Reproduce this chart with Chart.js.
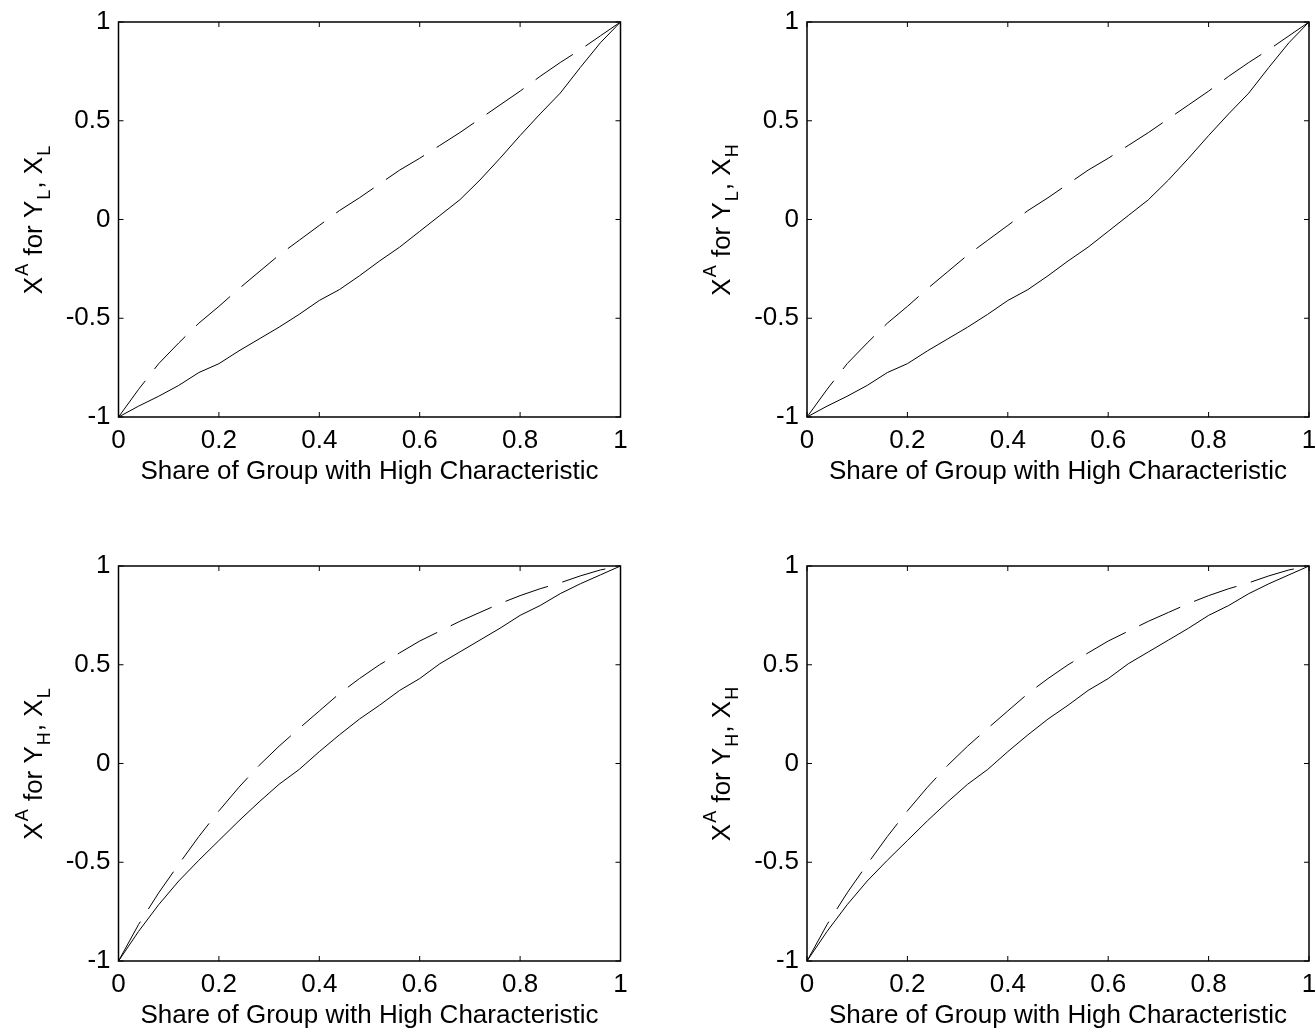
<!DOCTYPE html>
<html>
<head>
<meta charset="utf-8">
<script src="https://cdn.jsdelivr.net/npm/chart.js@4.4.0/dist/chart.umd.min.js"></script>
<style>
  body { margin: 0; background: #fff; }
  #wrap { position: relative; width: 1316px; height: 1033px; overflow: hidden; background: #fff; }
  canvas { position: absolute; }
</style>
</head>
<body>
<div id="wrap">
  <canvas id="tl" width="658" height="516" style="left:0;top:0"></canvas>
  <canvas id="tr" width="658" height="516" style="left:658px;top:0"></canvas>
  <canvas id="bl" width="658" height="517" style="left:0;top:516px"></canvas>
  <canvas id="br" width="658" height="517" style="left:658px;top:516px"></canvas>
</div>
<script>
// share of group with high characteristic (x)
const shareHigh = [0, 0.04, 0.08, 0.12, 0.16, 0.20, 0.24, 0.28, 0.32, 0.36, 0.40, 0.44, 0.48,
                   0.52, 0.56, 0.60, 0.64, 0.68, 0.72, 0.76, 0.80, 0.84, 0.88, 0.92, 0.96, 1];

// top row, X^A for Y_L
const topSolid  = [-1, -0.945, -0.895, -0.84, -0.775, -0.73, -0.665, -0.605, -0.545, -0.48, -0.41, -0.355, -0.285,
                   -0.21, -0.14, -0.06, 0.02, 0.10, 0.20, 0.31, 0.425, 0.535, 0.64, 0.77, 0.895, 1];
const topDashed = [-1, -0.86, -0.73, -0.625, -0.525, -0.44, -0.35, -0.265, -0.18, -0.105, -0.03, 0.045, 0.11,
                   0.18, 0.25, 0.31, 0.375, 0.44, 0.51, 0.58, 0.65, 0.725, 0.795, 0.86, 0.93, 1];

// bottom row, X^A for Y_H
const bottomSolid  = [-1, -0.85, -0.715, -0.595, -0.49, -0.39, -0.29, -0.195, -0.105, -0.03, 0.06, 0.145, 0.225,
                      0.295, 0.37, 0.43, 0.505, 0.565, 0.625, 0.685, 0.75, 0.80, 0.86, 0.91, 0.955, 1];
const bottomDashed = [-1, -0.815, -0.655, -0.51, -0.37, -0.24, -0.12, -0.01, 0.088, 0.178, 0.266, 0.354, 0.43,
                      0.5, 0.56, 0.62, 0.67, 0.72, 0.765, 0.81, 0.85, 0.885, 0.915, 0.95, 0.98, 1];

const xTicks = [0, 0.2, 0.4, 0.6, 0.8, 1];
const xTickLabels = ['0', '0.2', '0.4', '0.6', '0.8', '1'];
const yTicks = [-1, -0.5, 0, 0.5, 1];
const yTickLabels = ['-1', '-0.5', '0', '0.5', '1'];
const xTitle = 'Share of Group with High Characteristic';

// y titles as [text, kind] pieces so the super/subscripts can be drawn
const yTitleLL = [['X', ''], ['A', 'sup'], [' for Y', ''], ['L', 'sub'], [', X', ''], ['L', 'sub']];
const yTitleLH = [['X', ''], ['A', 'sup'], [' for Y', ''], ['L', 'sub'], [', X', ''], ['H', 'sub']];
const yTitleHL = [['X', ''], ['A', 'sup'], [' for Y', ''], ['H', 'sub'], [', X', ''], ['L', 'sub']];
const yTitleHH = [['X', ''], ['A', 'sup'], [' for Y', ''], ['H', 'sub'], [', X', ''], ['H', 'sub']];

const FONT = 'Liberation Sans';
const SIZE = 26;
const SMALL = 18;

// box with inward ticks on all sides + rotated y title (matlab look)
const framePlugin = {
  id: 'frame',
  afterDatasetsDraw(chart, args, opts) {
    const ctx = chart.ctx;
    const a = chart.chartArea;
    const x = chart.scales.x, y = chart.scales.y;
    ctx.save();
    ctx.strokeStyle = '#000';
    ctx.lineWidth = 1;
    ctx.beginPath();
    xTicks.forEach(v => {
      const px = x.getPixelForValue(v);
      ctx.moveTo(px, a.bottom); ctx.lineTo(px, a.bottom - 5);
      ctx.moveTo(px, a.top); ctx.lineTo(px, a.top + 5);
    });
    yTicks.forEach(v => {
      const py = y.getPixelForValue(v);
      ctx.moveTo(a.left, py); ctx.lineTo(a.left + 5, py);
      ctx.moveTo(a.right, py); ctx.lineTo(a.right - 5, py);
    });
    ctx.stroke();
    ctx.lineWidth = 1.5;
    ctx.strokeRect(a.left, a.top, a.right - a.left, a.bottom - a.top);

    ctx.translate(a.left - 77, (a.top + a.bottom) / 2);
    ctx.rotate(-Math.PI / 2);
    ctx.fillStyle = '#000';
    ctx.textAlign = 'left';
    ctx.textBaseline = 'alphabetic';
    const fontFor = k => (k ? SMALL : SIZE) + 'px "' + FONT + '"';
    let total = 0;
    opts.parts.forEach(([t, k]) => { ctx.font = fontFor(k); total += ctx.measureText(t).width + 1; });
    let cx = -total / 2;
    opts.parts.forEach(([t, k]) => {
      ctx.font = fontFor(k);
      const dy = k === 'sup' ? -14 : (k === 'sub' ? 8 : 0);
      ctx.fillText(t, cx, dy);
      cx += ctx.measureText(t).width + 1;
    });
    ctx.restore();
  }
};

function points(xs, ys) {
  return xs.map((v, i) => ({ x: v, y: ys[i] }));
}

function makeChart(id, solid, dashed, titleParts, box) {
  const canvas = document.getElementById(id);
  const W = canvas.width, H = canvas.height;
  const font = { family: FONT, size: SIZE };
  new Chart(canvas, {
    type: 'line',
    data: {
      datasets: [
        { data: points(shareHigh, solid), borderColor: '#000', borderWidth: 1, pointRadius: 0, tension: 0 },
        { data: points(shareHigh, dashed), borderColor: '#000', borderWidth: 1, borderDash: [45, 15], pointRadius: 0, tension: 0 }
      ]
    },
    options: {
      responsive: false,
      animation: false,
      events: [],
      layout: { padding: { top: box.top, right: W - box.right, left: 0, bottom: 0 } },
      plugins: {
        legend: { display: false },
        tooltip: { enabled: false },
        frame: { parts: titleParts }
      },
      scales: {
        x: {
          type: 'linear', min: 0, max: 1,
          grid: { display: false, drawTicks: false },
          border: { display: false },
          afterBuildTicks: s => { s.ticks = xTicks.map(v => ({ value: v })); },
          afterFit: s => { s.height = H - box.bottom; s.paddingLeft = 0; s.paddingRight = 0; },
          ticks: { font: font, color: '#000', padding: 8, maxRotation: 0, autoSkip: false,
                   callback: (v, i) => xTickLabels[i] },
          title: { display: true, text: xTitle, font: font, color: '#000',
                   padding: { top: 0, bottom: (H - box.bottom) - 55 - SIZE * 0.6 } }
        },
        y: {
          type: 'linear', min: -1, max: 1,
          grid: { display: false, drawTicks: false },
          border: { display: false },
          afterBuildTicks: s => { s.ticks = yTicks.map(v => ({ value: v })); },
          afterFit: s => { s.width = box.left; s.paddingTop = 0; s.paddingBottom = 0; },
          ticks: { font: font, color: '#000', padding: 8, autoSkip: false,
                   callback: (v, i) => yTickLabels[i] }
        }
      }
    },
    plugins: [framePlugin]
  });
}

makeChart('tl', topSolid, topDashed, yTitleLL, { left: 118.5, right: 620.5, top: 22, bottom: 417 });
makeChart('tr', topSolid, topDashed, yTitleLH, { left: 149, right: 651, top: 22, bottom: 417 });
makeChart('bl', bottomSolid, bottomDashed, yTitleHL, { left: 118.5, right: 620.5, top: 50, bottom: 445 });
makeChart('br', bottomSolid, bottomDashed, yTitleHH, { left: 149, right: 651, top: 50, bottom: 445 });
</script>
</body>
</html>
